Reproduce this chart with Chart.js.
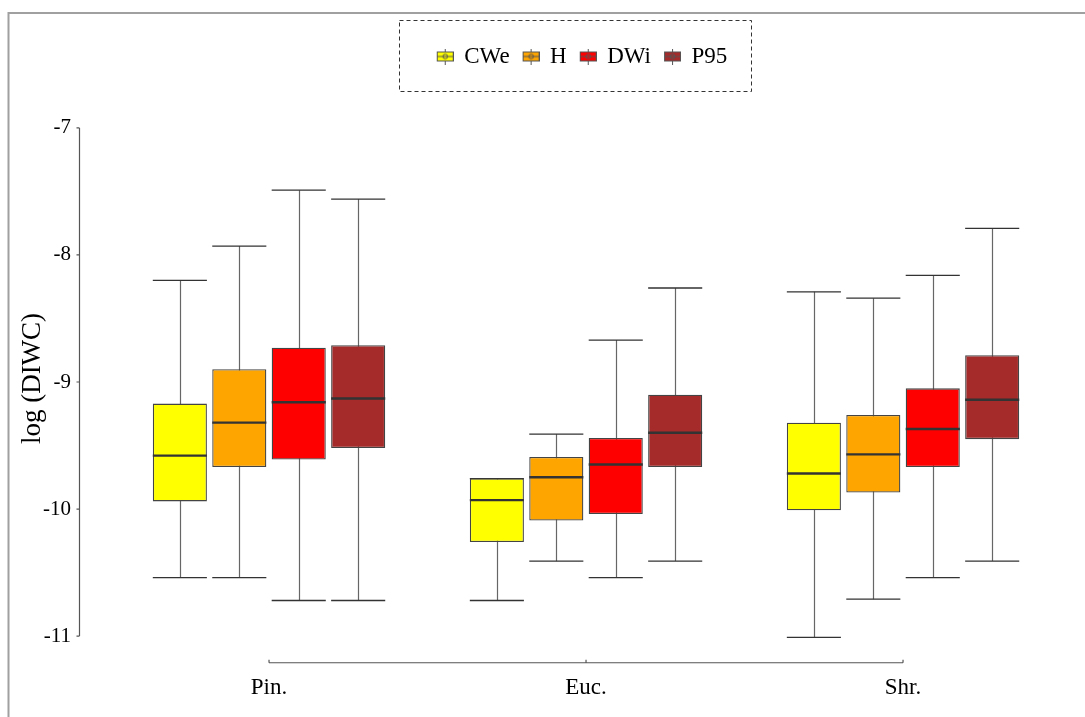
<!DOCTYPE html>
<html>
<head>
<meta charset="utf-8">
<script src="https://cdn.jsdelivr.net/npm/chart.js@4.4.1/dist/chart.umd.min.js"></script>
<style>
  html, body { margin: 0; padding: 0; background: #ffffff; }
  #wrap { width: 1085px; height: 717px; }
</style>
</head>
<body>
<div id="wrap"><canvas id="c" width="1085" height="717"></canvas></div>
<script>
// ---- data ----
const CATEGORIES = ['Pin.', 'Euc.', 'Shr.'];
const SERIES = ['CWe', 'H', 'DWi', 'P95'];
const COLORS = ['#FFFF00', '#FFA500', '#FF0000', '#A52A2A'];
const Y_TICKS = [-11, -10, -9, -8, -7];

const CWE_LOW  = [-10.54, -10.72, -11.01];
const CWE_Q1   = [-9.94, -10.26, -10.01];
const CWE_MED  = [-9.58, -9.93, -9.72];
const CWE_Q3   = [-9.17, -9.76, -9.32];
const CWE_HIGH = [-8.20, -9.76, -8.29];

const H_LOW  = [-10.54, -10.41, -10.71];
const H_Q1   = [-9.67, -10.09, -9.87];
const H_MED  = [-9.32, -9.75, -9.57];
const H_Q3   = [-8.90, -9.59, -9.26];
const H_HIGH = [-7.93, -9.41, -8.34];

const DWI_LOW  = [-10.72, -10.54, -10.54];
const DWI_Q1   = [-9.61, -10.04, -9.67];
const DWI_MED  = [-9.16, -9.65, -9.37];
const DWI_Q3   = [-8.73, -9.44, -9.05];
const DWI_HIGH = [-7.49, -8.67, -8.16];

const P95_LOW  = [-10.72, -10.41, -10.41];
const P95_Q1   = [-9.52, -9.67, -9.45];
const P95_MED  = [-9.13, -9.40, -9.14];
const P95_Q3   = [-8.71, -9.10, -8.79];
const P95_HIGH = [-7.56, -8.26, -7.79];

const STATS = [
  { low: CWE_LOW, q1: CWE_Q1, med: CWE_MED, q3: CWE_Q3, high: CWE_HIGH },
  { low: H_LOW,   q1: H_Q1,   med: H_MED,   q3: H_Q3,   high: H_HIGH },
  { low: DWI_LOW, q1: DWI_Q1, med: DWI_MED, q3: DWI_Q3, high: DWI_HIGH },
  { low: P95_LOW, q1: P95_Q1, med: P95_MED, q3: P95_Q3, high: P95_HIGH }
];

// axis extents (value space)
const Y_MIN = -11.338, Y_MAX = -6.607;
const X_MIN = 0.4006, X_MAX = 3.574;
const X_AXIS_LEVEL = -11.21;

const SERIF = "'Liberation Serif', 'DejaVu Serif', serif";

// legend icons (small boxplot glyphs)
function makeIcon(color) {
  const c = document.createElement('canvas');
  c.width = 18; c.height = 16;
  const g = c.getContext('2d');
  g.strokeStyle = '#555'; g.lineWidth = 1;
  g.beginPath(); g.moveTo(9.5, 0); g.lineTo(9.5, 3); g.moveTo(9.5, 13); g.lineTo(9.5, 16); g.stroke();
  g.fillStyle = color; g.fillRect(1.5, 3.5, 16, 9);
  g.strokeRect(1.5, 3.5, 16, 9);
  g.beginPath(); g.moveTo(1.5, 8); g.lineTo(17.5, 8); g.stroke();
  g.beginPath(); g.arc(9.5, 8, 2.3, 0, Math.PI * 2); g.stroke();
  return c;
}
const ICONS = COLORS.map(makeIcon);

const datasets = SERIES.map((name, i) => ({
  label: name,
  data: CATEGORIES.map((cat, j) => ({ x: j + 1, y: [STATS[i].q1[j], STATS[i].q3[j]] })),
  backgroundColor: COLORS[i],
  borderColor: '#444444',
  borderWidth: 1.3,
  borderSkipped: false,
  categoryPercentage: 0.75,
  barPercentage: 0.91
}));

const boxPlugin = {
  id: 'boxplotParts',
  beforeDraw(chart) {
    const ctx = chart.ctx;
    ctx.save();
    ctx.strokeStyle = '#a0a0a0';
    ctx.lineWidth = 2;
    ctx.beginPath();
    ctx.moveTo(8.5, chart.height);
    ctx.lineTo(8.5, 13);
    ctx.lineTo(chart.width, 13);
    ctx.stroke();
    ctx.restore();
  },
  beforeDatasetsDraw(chart) {
    const ctx = chart.ctx, ys = chart.scales.y;
    ctx.save();
    chart.data.datasets.forEach((ds, i) => {
      const meta = chart.getDatasetMeta(i);
      meta.data.forEach((bar, j) => {
        const s = STATS[i];
        const x = Math.round(bar.x) + 0.5;
        const half = bar.width / 2;
        const yl = ys.getPixelForValue(s.low[j]);
        const yh = ys.getPixelForValue(s.high[j]);
        ctx.strokeStyle = '#666';
        ctx.lineWidth = 1.2;
        ctx.beginPath(); ctx.moveTo(x, yl); ctx.lineTo(x, yh); ctx.stroke();
        ctx.strokeStyle = '#333';
        ctx.lineWidth = 1.3;
        ctx.beginPath();
        ctx.moveTo(bar.x - half, yl); ctx.lineTo(bar.x + half, yl);
        ctx.moveTo(bar.x - half, yh); ctx.lineTo(bar.x + half, yh);
        ctx.stroke();
      });
    });
    ctx.restore();
  },
  afterDatasetsDraw(chart) {
    const ctx = chart.ctx, ys = chart.scales.y;
    ctx.save();
    ctx.strokeStyle = '#333';
    ctx.lineWidth = 2.4;
    chart.data.datasets.forEach((ds, i) => {
      const meta = chart.getDatasetMeta(i);
      meta.data.forEach((bar, j) => {
        const ym = ys.getPixelForValue(STATS[i].med[j]);
        const half = bar.width / 2;
        ctx.beginPath(); ctx.moveTo(bar.x - half, ym); ctx.lineTo(bar.x + half, ym); ctx.stroke();
      });
    });
    ctx.restore();
  },
  afterDraw(chart) {
    const ctx = chart.ctx, ys = chart.scales.y, xs = chart.scales.x;
    ctx.save();
    ctx.strokeStyle = '#555';
    ctx.lineWidth = 1.2;
    // y axis line between extreme ticks
    const ax = chart.chartArea.left + 0.5;
    const yTop = ys.getPixelForValue(Y_TICKS[Y_TICKS.length - 1]);
    const yBot = ys.getPixelForValue(Y_TICKS[0]);
    ctx.beginPath();
    ctx.moveTo(ax, yTop); ctx.lineTo(ax, yBot);
    Y_TICKS.forEach(v => { const p = ys.getPixelForValue(v); ctx.moveTo(ax - 3, p); ctx.lineTo(ax, p); });
    ctx.stroke();
    // x axis line between extreme ticks
    const xy = ys.getPixelForValue(X_AXIS_LEVEL);
    const x0 = xs.getPixelForValue(1), x1 = xs.getPixelForValue(CATEGORIES.length);
    ctx.beginPath();
    ctx.moveTo(x0, xy); ctx.lineTo(x1, xy);
    CATEGORIES.forEach((c, j) => { const p = xs.getPixelForValue(j + 1); ctx.moveTo(p, xy); ctx.lineTo(p, xy - 3); });
    ctx.stroke();
    // dashed legend frame
    const hb = chart.legend.legendHitBoxes;
    if (hb && hb.length) {
      const last = hb[hb.length - 1];
      const l = Math.round(hb[0].left - 38) + 0.5;
      const r = Math.round(last.left + last.width + 24) + 0.5;
      const t = Math.round(hb[0].top - 25) + 0.5;
      const b = Math.round(hb[0].top + 46) + 0.5;
      ctx.strokeStyle = '#333';
      ctx.lineWidth = 1;
      ctx.setLineDash([4, 3]);
      ctx.strokeRect(l, t, r - l, b - t);
    }
    ctx.restore();
  }
};

new Chart(document.getElementById('c'), {
  type: 'bar',
  data: { datasets },
  plugins: [boxPlugin],
  options: {
    responsive: false,
    devicePixelRatio: 1,
    animation: false,
    events: [],
    layout: { padding: { left: 0, right: 0, top: 32, bottom: 0 } },
    plugins: {
      tooltip: { enabled: false },
      legend: {
        display: true,
        position: 'top',
        fullSize: false,
        labels: {
          color: '#000',
          font: { family: SERIF, size: 23 },
          padding: 13,
          usePointStyle: true,
          pointStyleWidth: 16,
          generateLabels: (chart) => chart.data.datasets.map((ds, i) => ({
            text: ds.label,
            pointStyle: ICONS[i],
            fillStyle: ds.backgroundColor,
            strokeStyle: '#555',
            lineWidth: 1,
            fontColor: '#000',
            hidden: !chart.isDatasetVisible(i),
            datasetIndex: i
          }))
        }
      }
    },
    scales: {
      x: {
        type: 'linear',
        offset: false,
        min: X_MIN,
        max: X_MAX,
        grid: { display: false, drawTicks: false },
        border: { display: false },
        afterFit: (s) => { s.height = 38; },
        afterBuildTicks: (s) => { s.ticks = CATEGORIES.map((c, j) => ({ value: j + 1 })); },
        ticks: {
          autoSkip: false,
          maxRotation: 0,
          padding: -5,
          color: '#000',
          font: { family: SERIF, size: 23 },
          callback: (v) => CATEGORIES[Math.round(v) - 1]
        }
      },
      y: {
        type: 'linear',
        min: Y_MIN,
        max: Y_MAX,
        grid: { display: false, drawTicks: false },
        border: { display: false },
        afterFit: (s) => { s.width = 79; },
        afterBuildTicks: (s) => { s.ticks = Y_TICKS.map(v => ({ value: v })); },
        ticks: {
          padding: 8,
          color: '#000',
          font: { family: SERIF, size: 21 },
          callback: (v) => String(v)
        },
        title: {
          display: true,
          text: 'log (DIWC)',
          color: '#000',
          font: { family: SERIF, size: 27 },
          padding: { top: 17, bottom: 0 }
        }
      }
    }
  }
});
</script>
</body>
</html>
